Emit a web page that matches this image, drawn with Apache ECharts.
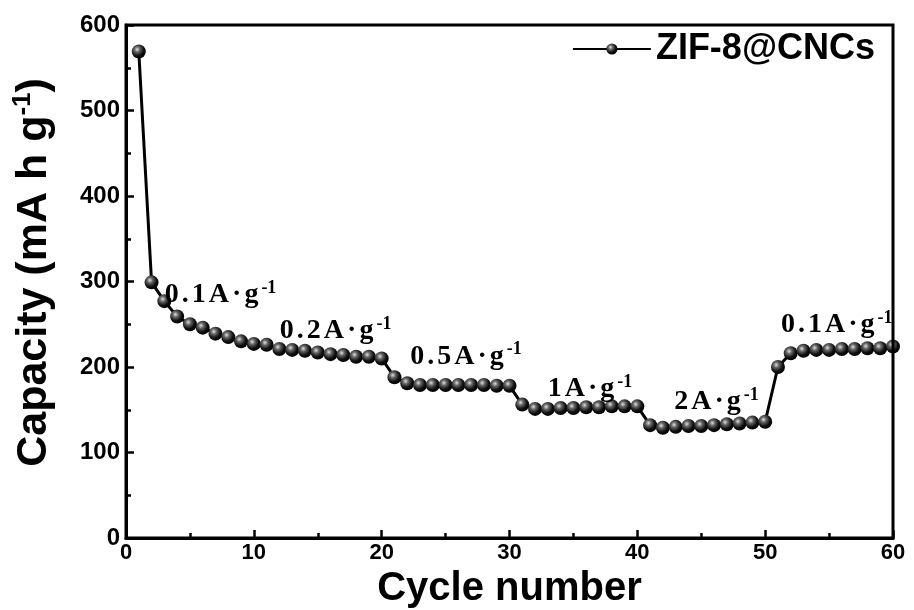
<!DOCTYPE html>
<html><head><meta charset="utf-8">
<script src="https://cdn.jsdelivr.net/npm/echarts@6/dist/echarts.min.js"></script>
<style>html,body{margin:0;padding:0;background:#fff}#c{width:914px;height:610px}</style>
</head><body><div id="c"></div>
<script>
var cycles = [];
for (var i = 1; i <= 60; i++) cycles.push(i);
var capacity = [569, 299, 277, 259, 250, 246, 239, 235, 230, 227,
  226, 221, 220, 219, 217, 215, 214, 212, 212, 210,
  188, 181, 179, 179, 179, 179, 179, 179, 178, 178,
  156, 151, 151, 152, 152, 153, 153, 154, 154, 154,
  132, 129, 130, 131, 131, 132, 133, 134, 135, 136,
  200, 216, 219, 220, 220, 221, 221, 222, 222, 224];
var annoText = ['0.1', '0.2', '0.5', '1', '2', '0.1'];
var annoX = [7.4, 16.4, 26.6, 36.3, 46.2, 55.6];
var annoY = [284, 242, 212, 174, 159, 249];
var seriesName = 'ZIF-8@CNCs';

var sphere = {
  type: 'radial', x: 0.38, y: 0.35, r: 0.65,
  colorStops: [{offset: 0, color: '#e0e0e0'}, {offset: 0.3, color: '#666'}, {offset: 0.7, color: '#111'}, {offset: 1, color: '#000'}]
};
var chart = echarts.init(document.getElementById('c'));
var serif = 'Liberation Serif, Times New Roman, serif';
var sans = 'Liberation Sans, Arial, sans-serif';
function spaced(s) {
  return s.split('').map(function (ch) { return '{t|' + ch + '}'; }).join('');
}
chart.setOption({
  animation: false,
  backgroundColor: '#fff',
  grid: {left: 126, right: 21, top: 25, bottom: 72, containLabel: false, outerBoundsMode: 'none'},
  legend: {
    right: 34, top: 26, itemWidth: 78, itemHeight: 14, itemGap: 5,
    data: [{name: seriesName}],
    itemStyle: {color: sphere},
    textStyle: {fontFamily: sans, fontWeight: 'bold', fontSize: 36, color: '#000'}
  },
  xAxis: {
    type: 'value', min: 0, max: 60, interval: 10,
    name: 'Cycle number', nameLocation: 'middle', nameGap: 24,
    nameTextStyle: {fontFamily: sans, fontWeight: 'bold', fontSize: 40, color: '#000'},
    axisLine: {onZero: false, lineStyle: {color: '#000', width: 3}},
    axisTick: {inside: true, length: 8, lineStyle: {width: 2.5, color: '#000'}},
    minorTick: {show: true, splitNumber: 2, length: 5, lineStyle: {width: 2.5, color: '#000'}},
    axisLabel: {fontFamily: 'Liberation Sans Narrow, ' + sans, fontWeight: 'bold', fontSize: 22, color: '#000', margin: 4},
    splitLine: {show: false}
  },
  yAxis: {
    type: 'value', min: 0, max: 600, interval: 100,
    name: 'Capacity (mA h g{sup|-1})', nameLocation: 'middle', nameGap: 68,
    nameTextStyle: {fontFamily: sans, fontWeight: 'bold', fontSize: 43, color: '#000', padding: [0, 0, 0, 18],
      rich: {sup: {fontFamily: sans, fontWeight: 'bold', fontSize: 26, verticalAlign: 'top', padding: [0, 0, 22, 0]}}},
    axisLine: {onZero: false, lineStyle: {color: '#000', width: 3}},
    axisTick: {inside: true, length: 8, lineStyle: {width: 2.5, color: '#000'}},
    minorTick: {show: true, splitNumber: 2, length: 5, lineStyle: {width: 2.5, color: '#000'}},
    axisLabel: {fontFamily: sans, fontWeight: 'bold', fontSize: 24, color: '#000', margin: 6},
    splitLine: {show: false}
  },
  graphic: [{type: 'rect', shape: {x: 126, y: 25, width: 767, height: 513}, style: {fill: 'none', stroke: '#000', lineWidth: 3}, silent: true, z: 100}],
  series: [{
    name: seriesName, type: 'line',
    data: cycles.map(function (c, i) { return [c, capacity[i]]; }),
    symbol: 'circle', symbolSize: 14,
    lineStyle: {color: '#000', width: 3},
    itemStyle: {color: sphere, borderWidth: 0},
    z: 3,
    markPoint: {
      silent: true, symbol: 'circle', symbolSize: 0,
      itemStyle: {color: 'transparent'},
      data: annoX.map(function (x, i) { return {coord: [x, annoY[i]], txt: annoText[i]}; }),
      label: {
        show: true, position: 'inside', color: '#000', opacity: 1,
        formatter: function (p) { return spaced(p.data.txt + 'A·g') + '{s|-1}'; },
        rich: {
          t: {fontFamily: serif, fontWeight: 'bold', fontSize: 28, color: '#000', padding: [0, 3, 0, 0]},
          s: {fontFamily: serif, fontWeight: 'bold', fontSize: 18, color: '#000', verticalAlign: 'top', padding: [0, 0, 14, 0]}
        }
      }
    }
  }]
});
</script></body></html>
